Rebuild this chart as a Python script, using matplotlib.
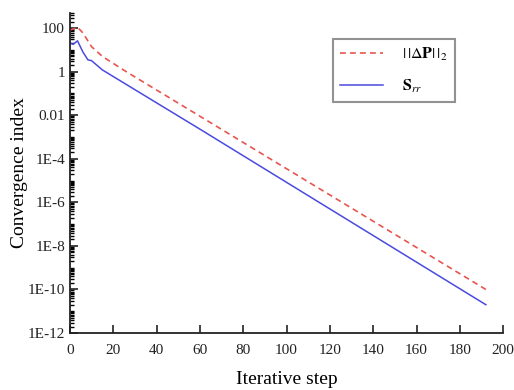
import matplotlib.pyplot as plt
from matplotlib.ticker import FixedLocator, LogLocator, NullFormatter

plt.rcParams['font.family'] = 'Liberation Serif'
plt.rcParams['mathtext.fontset'] = 'stix'

# valori
steps_dp = [0, 2, 3.5, 6, 10, 15, 20, 26, 60, 192]
norm_dp = [80, 95, 110, 60, 14, 5.0, 2.4, 1.0, 0.009, 1e-10]

steps_srr = [0, 1.5, 3.5, 6, 8.3, 10, 15, 60, 192]
srr = [21, 18, 26, 8, 3.5, 3.2, 1.2, 0.0023, 2e-11]

ytick_vals = [1e2, 1, 1e-2, 1e-4, 1e-6, 1e-8, 1e-10, 1e-12]
ytick_labels = ['100', '1', '0.01', '1E-4', '1E-6', '1E-8', '1E-10', '1E-12']
xticks = list(range(0, 201, 20))

fig = plt.figure(figsize=(5.14, 3.9), dpi=100)
ax = fig.add_axes([0.136, 0.146, 0.843, 0.821])

ax.semilogy(steps_dp, norm_dp, color='#e8554e', ls=(0, (3.5, 2.5)), lw=1.2,
            label=r'$|\,|\Delta\mathbf{P}|\,|_2$')
ax.semilogy(steps_srr, srr, color='#4a4ae0', lw=1.1, label=r'$\mathbf{S}_{rr}$')

ax.set_xlim(0, 200)
ax.set_ylim(1e-12, 500)
ax.set_xticks(xticks)

# tacche: etichette ogni due decadi, tacche medie ogni decade
ax.yaxis.set_major_locator(FixedLocator(ytick_vals))
ax.set_yticklabels(ytick_labels)
ax.yaxis.set_minor_locator(LogLocator(base=10, subs=[1, 2, 3, 4, 5, 6, 7, 8, 9], numticks=30))
ax.yaxis.set_minor_formatter(NullFormatter())

ax.tick_params(axis='both', which='major', direction='in', length=6, width=1.2,
               labelsize=11, colors='#222222')
ax.tick_params(axis='x', which='major', pad=8)
ax.tick_params(axis='y', which='minor', direction='in', length=3, width=1)
ax.tick_params(axis='x', which='minor', bottom=False)

for s in ['top', 'right']:
    ax.spines[s].set_visible(False)
for s in ['left', 'bottom']:
    ax.spines[s].set_linewidth(1.3)
    ax.spines[s].set_color('#222222')

ax.set_xlabel('Iterative step', fontsize=14, labelpad=10)
ax.set_ylabel('Convergence index', fontsize=14, labelpad=0)

leg = ax.legend(loc='upper left', bbox_to_anchor=(0.607, 0.919), fontsize=11.5,
                fancybox=False, edgecolor='#777777', handlelength=2.7,
                handletextpad=1.2, labelspacing=0.9, borderpad=0.45,
                borderaxespad=0)
leg.get_frame().set_linewidth(1.5)

fig.savefig('out.png', dpi=100)
